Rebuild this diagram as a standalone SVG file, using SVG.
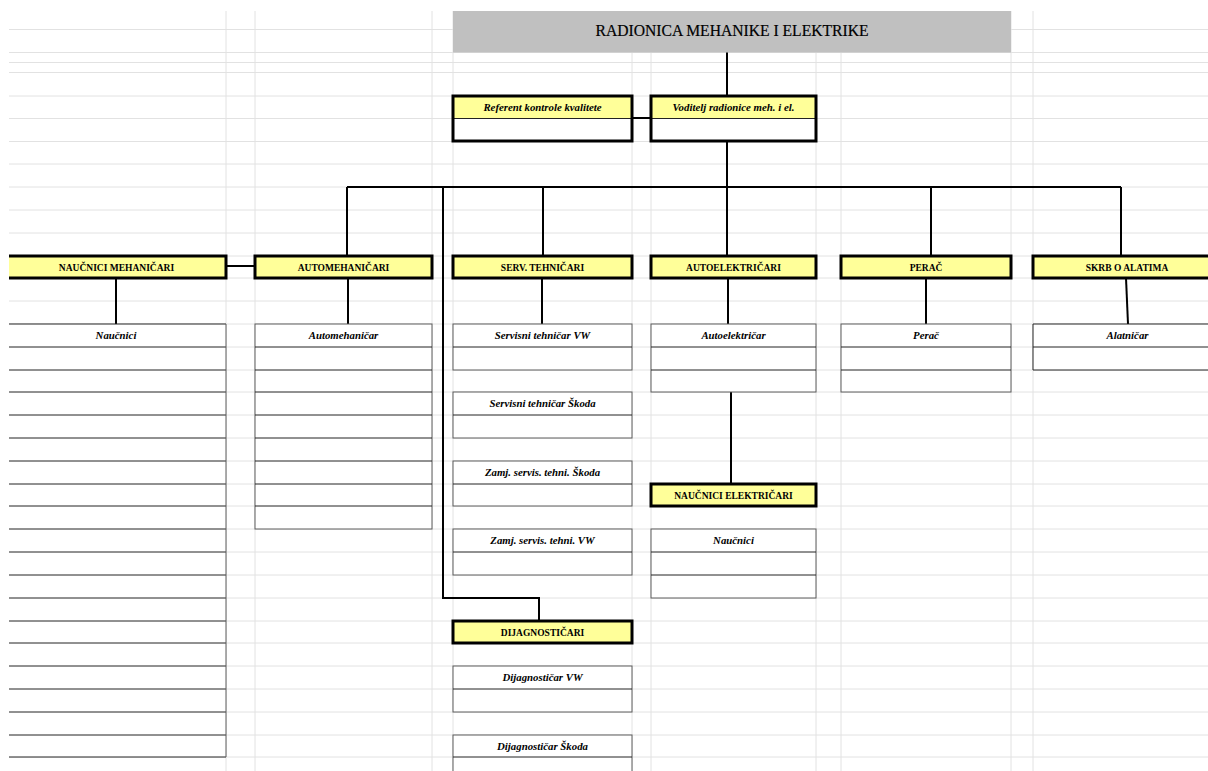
<svg xmlns="http://www.w3.org/2000/svg" width="1208" height="771" viewBox="0 0 1208 771">
<style>
.grid line{stroke:#e2e2e2;stroke-width:1}
.conn{stroke:#000;stroke-width:2;fill:none}
.hdr{fill:#ffff99}
.thick{stroke:#000;stroke-width:3;fill:none}
.box{fill:#fff;stroke:#5a5a5a;stroke-width:1}
.sep{stroke:#222;stroke-width:1;fill:none}
.ht{font-family:"Liberation Serif",serif;font-weight:bold;font-size:9.5px;text-anchor:middle;fill:#000}
.it{font-family:"Liberation Serif",serif;font-weight:bold;font-style:italic;font-size:10.8px;text-anchor:middle;fill:#000}
.title{font-family:"Liberation Serif",serif;font-size:16.5px;text-anchor:middle;fill:#000;stroke:#000;stroke-width:0.2}
</style>
<rect width="1208" height="771" fill="#fff"/>
<g class="grid">
<line x1="9" y1="29.5" x2="1208" y2="29.5"/>
<line x1="9" y1="52.5" x2="1208" y2="52.5"/>
<line x1="9" y1="62.5" x2="1208" y2="62.5"/>
<line x1="9" y1="72.5" x2="1208" y2="72.5"/>
<line x1="9" y1="96" x2="1208" y2="96"/>
<line x1="9" y1="118.5" x2="1208" y2="118.5"/>
<line x1="9" y1="141.5" x2="1208" y2="141.5"/>
<line x1="9" y1="164" x2="1208" y2="164"/>
<line x1="9" y1="187" x2="1208" y2="187"/>
<line x1="9" y1="210" x2="1208" y2="210"/>
<line x1="9" y1="233" x2="1208" y2="233"/>
<line x1="9" y1="256" x2="1208" y2="256"/>
<line x1="9" y1="278" x2="1208" y2="278"/>
<line x1="9" y1="301" x2="1208" y2="301"/>
<line x1="9" y1="324" x2="1208" y2="324"/>
<line x1="9" y1="347" x2="1208" y2="347"/>
<line x1="9" y1="370" x2="1208" y2="370"/>
<line x1="9" y1="392" x2="1208" y2="392"/>
<line x1="9" y1="415" x2="1208" y2="415"/>
<line x1="9" y1="438" x2="1208" y2="438"/>
<line x1="9" y1="461" x2="1208" y2="461"/>
<line x1="9" y1="484" x2="1208" y2="484"/>
<line x1="9" y1="506" x2="1208" y2="506"/>
<line x1="9" y1="529" x2="1208" y2="529"/>
<line x1="9" y1="552" x2="1208" y2="552"/>
<line x1="9" y1="575" x2="1208" y2="575"/>
<line x1="9" y1="598" x2="1208" y2="598"/>
<line x1="9" y1="621" x2="1208" y2="621"/>
<line x1="9" y1="643" x2="1208" y2="643"/>
<line x1="9" y1="666" x2="1208" y2="666"/>
<line x1="9" y1="689" x2="1208" y2="689"/>
<line x1="9" y1="712" x2="1208" y2="712"/>
<line x1="9" y1="735" x2="1208" y2="735"/>
<line x1="9" y1="757" x2="1208" y2="757"/>
<line x1="226" y1="11" x2="226" y2="771"/>
<line x1="255" y1="11" x2="255" y2="771"/>
<line x1="432" y1="11" x2="432" y2="771"/>
<line x1="453" y1="11" x2="453" y2="771"/>
<line x1="632" y1="11" x2="632" y2="771"/>
<line x1="651" y1="11" x2="651" y2="771"/>
<line x1="816" y1="11" x2="816" y2="771"/>
<line x1="841" y1="11" x2="841" y2="771"/>
<line x1="1011" y1="11" x2="1011" y2="771"/>
<line x1="1033" y1="11" x2="1033" y2="771"/>
</g>

<g id="title">
<rect x="453" y="11" width="558" height="41.5" fill="#c0c0c0"/>
<text class="title" x="732" y="36" textLength="273" lengthAdjust="spacingAndGlyphs">RADIONICA MEHANIKE I ELEKTRIKE</text>
</g>

<g id="connectors">
<path class="conn" d="M727,52.5 V96"/>
<path class="conn" d="M632,118 H651"/>
<path class="conn" d="M727,141 V187"/>
<path class="conn" d="M347,187 H1121"/>
<path class="conn" d="M347,187 V256"/>
<path class="conn" d="M443,187 V598 H539 V621"/>
<path class="conn" d="M543,187 V256"/>
<path class="conn" d="M727,187 V256"/>
<path class="conn" d="M931,187 V256"/>
<path class="conn" d="M1121,187 V256"/>
<path class="conn" d="M226,266 H255"/>
<path class="conn" d="M116,278 V324"/>
<path class="conn" d="M348,278 V324"/>
<path class="conn" d="M542,278 V324"/>
<path class="conn" d="M728,278 V324"/>
<path class="conn" d="M926,278 V324"/>
<path class="conn" d="M1126,278 L1128,324"/>
<path class="conn" d="M731,392 V484"/>
</g>

<g id="referent">
<rect x="453" y="96" width="179" height="45" fill="#fff"/>
<rect class="hdr" x="453" y="96" width="179" height="22.5"/>
<line class="sep" x1="453" y1="118.5" x2="632" y2="118.5"/>
<rect class="thick" x="453" y="96" width="179" height="45"/>
<text class="it" x="542.5" y="111">Referent kontrole kvalitete</text>
</g>

<g id="voditelj">
<rect x="651" y="96" width="165" height="45" fill="#fff"/>
<rect class="hdr" x="651" y="96" width="165" height="22.5"/>
<line class="sep" x1="651" y1="118.5" x2="816" y2="118.5"/>
<rect class="thick" x="651" y="96" width="165" height="45"/>
<text class="it" x="733.5" y="111">Voditelj radionice meh. i el.</text>
</g>

<g id="naucnici-mehanicari">
<rect class="hdr" x="9" y="256" width="217" height="22"/>
<path class="thick" d="M9,256 H226 V278 H9"/>
<text class="ht" x="116.5" y="271">NAUČNICI MEHANIČARI</text>
</g>

<g id="automehanicari">
<rect class="hdr" x="255" y="256" width="177" height="22"/>
<rect class="thick" x="255" y="256" width="177" height="22"/>
<text class="ht" x="343.5" y="271">AUTOMEHANIČARI</text>
</g>

<g id="serv-tehnicari">
<rect class="hdr" x="453" y="256" width="179" height="22"/>
<rect class="thick" x="453" y="256" width="179" height="22"/>
<text class="ht" x="542.5" y="271">SERV. TEHNIČARI</text>
</g>

<g id="autoelektricari">
<rect class="hdr" x="651" y="256" width="165" height="22"/>
<rect class="thick" x="651" y="256" width="165" height="22"/>
<text class="ht" x="733.5" y="271">AUTOELEKTRIČARI</text>
</g>

<g id="perac">
<rect class="hdr" x="841" y="256" width="170" height="22"/>
<rect class="thick" x="841" y="256" width="170" height="22"/>
<text class="ht" x="926" y="271">PERAČ</text>
</g>

<g id="skrb">
<rect class="hdr" x="1033" y="256" width="175" height="22"/>
<path class="thick" d="M1210,256 H1033 V278 H1210"/>
<text class="ht" x="1127" y="271">SKRB O ALATIMA</text>
</g>

<g id="naucnici-list">
<rect x="9" y="324" width="217" height="433" fill="#fff"/>
<path class="sep" d="M9,324 H226 M9,347 H226 M9,370 H226 M9,392 H226 M9,415 H226 M9,438 H226 M9,461 H226 M9,484 H226 M9,506 H226 M9,529 H226 M9,552 H226 M9,575 H226 M9,598 H226 M9,621 H226 M9,643 H226 M9,666 H226 M9,689 H226 M9,712 H226 M9,735 H226 M9,757 H226"/>
<line x1="226" y1="324" x2="226" y2="757" stroke="#5a5a5a" stroke-width="1"/>
<text class="it" x="116" y="339">Naučnici</text>
</g>

<g id="automehanicar-list">
<rect class="box" x="255" y="324" width="177" height="205"/>
<path class="sep" d="M255,347 H432 M255,370 H432 M255,392 H432 M255,415 H432 M255,438 H432 M255,461 H432 M255,484 H432 M255,506 H432"/>
<text class="it" x="343.5" y="339">Automehaničar</text>
</g>

<g id="serv-vw">
<rect class="box" x="453" y="324" width="179" height="46"/>
<line class="sep" x1="453" y1="347" x2="632" y2="347"/>
<text class="it" x="542.5" y="339">Servisni tehničar VW</text>
</g>

<g id="serv-skoda">
<rect class="box" x="453" y="392" width="179" height="46"/>
<line class="sep" x1="453" y1="415" x2="632" y2="415"/>
<text class="it" x="542.5" y="407">Servisni tehničar Škoda</text>
</g>

<g id="zamj-skoda">
<rect class="box" x="453" y="461" width="179" height="45"/>
<line class="sep" x1="453" y1="484" x2="632" y2="484"/>
<text class="it" x="542.5" y="476">Zamj. servis. tehni. Škoda</text>
</g>

<g id="zamj-vw">
<rect class="box" x="453" y="529" width="179" height="46"/>
<line class="sep" x1="453" y1="552" x2="632" y2="552"/>
<text class="it" x="542.5" y="544">Zamj. servis. tehni. VW</text>
</g>

<g id="dijagnosticari">
<rect class="hdr" x="453" y="621" width="179" height="22"/>
<rect class="thick" x="453" y="621" width="179" height="22"/>
<text class="ht" x="542.5" y="636">DIJAGNOSTIČARI</text>
</g>

<g id="dijag-vw">
<rect class="box" x="453" y="666" width="179" height="46"/>
<line class="sep" x1="453" y1="689" x2="632" y2="689"/>
<text class="it" x="542.5" y="681">Dijagnostičar VW</text>
</g>

<g id="dijag-skoda">
<rect class="box" x="453" y="735" width="179" height="46"/>
<line class="sep" x1="453" y1="757" x2="632" y2="757"/>
<text class="it" x="542.5" y="750">Dijagnostičar Škoda</text>
</g>

<g id="autoelektricar-list">
<rect class="box" x="651" y="324" width="165" height="68"/>
<path class="sep" d="M651,347 H816 M651,370 H816"/>
<text class="it" x="733.5" y="339">Autoelektričar</text>
</g>

<g id="naucnici-elektricari">
<rect class="hdr" x="651" y="484" width="165" height="22"/>
<rect class="thick" x="651" y="484" width="165" height="22"/>
<text class="ht" x="733.5" y="499">NAUČNICI ELEKTRIČARI</text>
</g>

<g id="naucnici-el-list">
<rect class="box" x="651" y="529" width="165" height="69"/>
<path class="sep" d="M651,552 H816 M651,575 H816"/>
<text class="it" x="733.5" y="544">Naučnici</text>
</g>

<g id="perac-list">
<rect class="box" x="841" y="324" width="170" height="68"/>
<path class="sep" d="M841,347 H1011 M841,370 H1011"/>
<text class="it" x="926" y="339">Perač</text>
</g>

<g id="alatnicar-list">
<rect x="1033" y="324" width="180" height="46" fill="#fff"/>
<path class="sep" d="M1208,324 H1033 V370 H1208 M1033,347 H1208"/>
<text class="it" x="1127.5" y="339">Alatničar</text>
</g>
</svg>
